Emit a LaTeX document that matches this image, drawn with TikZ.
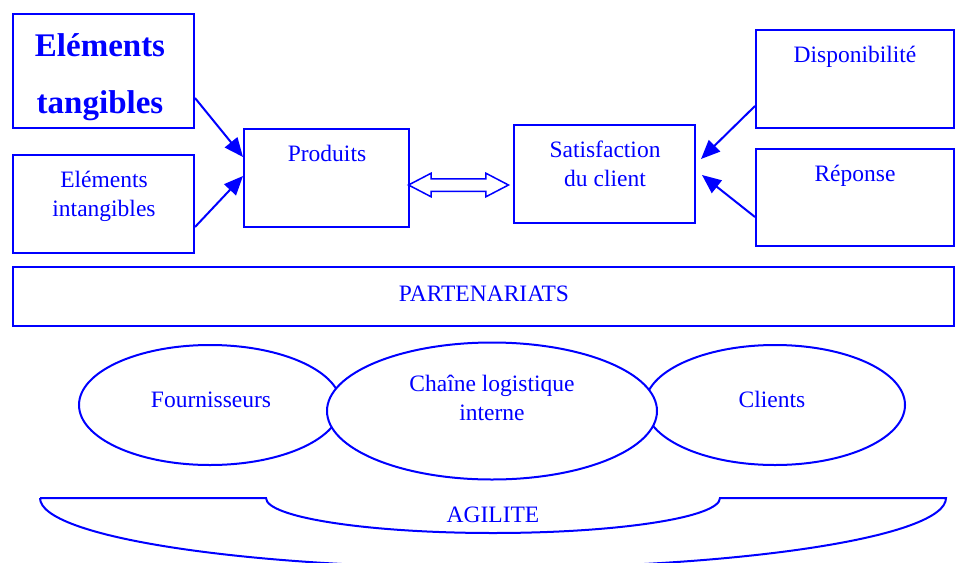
\documentclass[tikz,border=0pt]{standalone}
\usepackage{fontspec}
\setmainfont{Liberation Serif}
\usetikzlibrary{arrows.meta,shapes.geometric,shapes.arrows}
\definecolor{ink}{RGB}{0,0,255}
\begin{document}
\begin{tikzpicture}[x=1pt,y=-1pt,
  box/.style={draw=ink, line width=2pt, fill=white, inner sep=0pt},
  txt/.style={text=ink, font=\fontsize{23.5}{28.5}\selectfont, align=center, inner sep=0pt, anchor=base},
  bigtxt/.style={text=ink, font=\fontsize{33}{57}\selectfont\bfseries, align=center, inner sep=0pt, anchor=base},
  oval/.style={ellipse, draw=ink, line width=2pt, fill=white, inner sep=0pt},
  arr/.style={draw=ink, line width=2pt, -{Triangle[length=19pt,width=16pt]}},
]
\useasboundingbox (0,0) rectangle (955,562);
\clip (0,0) rectangle (955,562);

% boxes of the upper part
\node[box, minimum width=181pt, minimum height=114pt] (tang) at (103.5,71) {};
\node[box, minimum width=181pt, minimum height=98pt] (intang) at (103.5,204) {};
\node[box, minimum width=165pt, minimum height=98pt] (prod) at (326.5,178) {};
\node[box, minimum width=181pt, minimum height=98pt] (sat) at (604.5,174) {};
\node[box, minimum width=198pt, minimum height=98pt] (dispo) at (855,79) {};
\node[box, minimum width=198pt, minimum height=97pt] (rep) at (855,197.5) {};
\node[box, minimum width=941pt, minimum height=59pt] (part) at (483.5,296.5) {};

% box texts (multi-line ones are placed by their last baseline)
\node[bigtxt] (tangtxt) at (100,113) {Eléments\\tangibles};
\node[txt] (intangtxt) at (104,216) {Eléments\\intangibles};
\node[txt] (prodtxt) at (327,161) {Produits};
\node[txt] (sattxt) at (605,186) {Satisfaction\\du client};
\node[txt] (dispotxt) at (855,62) {Disponibilité};
\node[txt] (reptxt) at (855,181) {Réponse};
\node[txt] (parttxt) at (484,301) {PARTENARIATS};

% arrows towards the central boxes
\draw[arr] ([yshift=-27pt]tang.east) -- ([yshift=21pt]prod.west);
\draw[arr] ([yshift=-23pt]intang.east) -- ([yshift=2pt]prod.west);
\draw[arr] ([yshift=-27pt]dispo.west) -- ([xshift=5pt,yshift=15pt]sat.east);
\draw[arr] ([yshift=-19.5pt]rep.west) -- ([xshift=6pt,yshift=-1pt]sat.east);

% two-way link between products and satisfaction
\node[double arrow, draw=ink, line width=1.5pt, fill=white, inner xsep=0pt, inner ysep=5.5pt,
  minimum height=100pt, double arrow head extend=5.5pt,
  double arrow tip angle=55] (link) at (458.5,185) {};

% supply chain ovals
\node[oval, minimum width=262pt, minimum height=120pt] (four) at (210,405) {};
\node[oval, minimum width=260pt, minimum height=120pt] (cli) at (775,405) {};
\node[oval, minimum width=330pt, minimum height=137pt] (chain) at (492,411) {};
\node[txt] (fourtxt) at (211,407) {Fournisseurs};
\node[txt] (clitxt) at (772,407) {Clients};
\node[txt] (chaintxt) at (492,420) {Chaîne logistique\\interne};

% agility base
\draw[ink, line width=2pt] (40,498) -- (266,498)
  arc[start angle=180, end angle=360, x radius=227pt, y radius=35pt]
  -- (946,498)
  arc[start angle=0, end angle=-180, x radius=453pt, y radius=70pt];
\node[txt] (agtxt) at (493,522) {AGILITE};
\end{tikzpicture}
\end{document}
